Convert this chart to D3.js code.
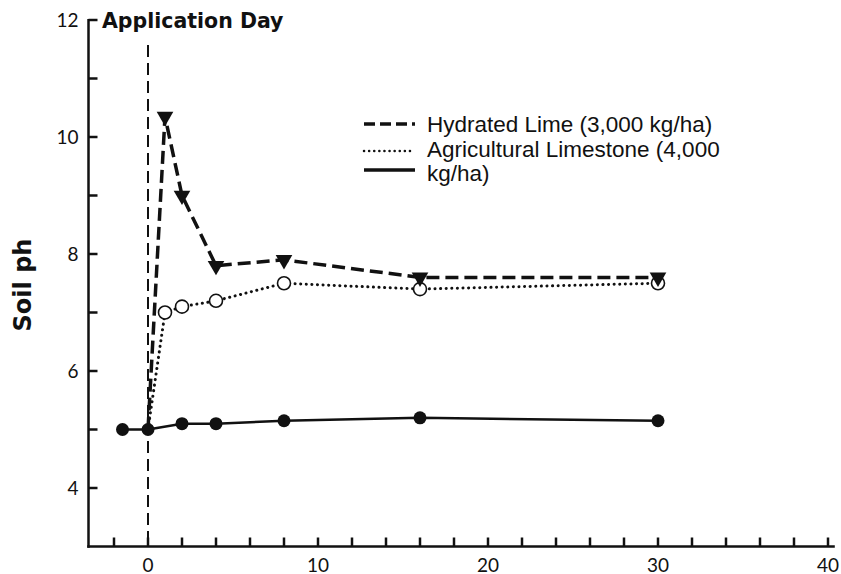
<!DOCTYPE html>
<html>
<head>
<meta charset="utf-8">
<script src="https://cdn.jsdelivr.net/npm/d3@7"></script>
<style>
  body { margin: 0; background: #fff; }
  svg { display: block; }
</style>
</head>
<body>
<div id="chart"></div>
<script>
// days after application and soil pH readings for each treatment
const limeDays = [0, 1, 2, 4, 8, 16, 30];
const limeValues = [5.0, 10.35, 9.0, 7.8, 7.9, 7.6, 7.6];

const limestoneDays = [0, 1, 2, 4, 8, 16, 30];
const limestoneValues = [5.0, 7.0, 7.1, 7.2, 7.5, 7.4, 7.5];

const controlDays = [-1.5, 0, 2, 4, 8, 16, 30];
const controlValues = [5.0, 5.0, 5.1, 5.1, 5.15, 5.2, 5.15];

const xTicks = d3.range(-2, 41, 2);
const xLabels = [0, 10, 20, 30, 40];
const yTicks = d3.range(4, 13, 1);
const yLabels = [4, 6, 8, 10, 12];

const legendLabels = ["Hydrated Lime (3,000 kg/ha)", "Agricultural Limestone (4,000", "kg/ha)"];

const width = 841, height = 574;

const svg = d3.select("#chart")
    .append("svg")
    .attr("width", width)
    .attr("height", height);

const x = d3.scaleLinear().domain([-3.5, 40.4]).range([88.5, 834.8]);
const y = d3.scaleLinear().domain([3, 12]).range([546.5, 20]);

const tickFont = "Lato, 'DejaVu Sans', sans-serif";
const boldFont = "'DejaVu Sans', sans-serif";
const ink = "#111";

// axis frame: left and bottom lines
const axes = svg.append("g")
    .attr("stroke", ink)
    .attr("stroke-width", 2.5);

axes.append("line")
    .attr("x1", x(-3.5)).attr("x2", x(-3.5))
    .attr("y1", y(12) - 1).attr("y2", y(3) + 1.25);
axes.append("line")
    .attr("x1", x(-3.5) - 1.25).attr("x2", x(40.4))
    .attr("y1", y(3)).attr("y2", y(3));

// x ticks point up, every 2 days
axes.selectAll(".xtick")
    .data(xTicks)
    .enter().append("line")
    .attr("class", "xtick")
    .attr("x1", d => x(d)).attr("x2", d => x(d))
    .attr("y1", y(3)).attr("y2", y(3) - 9);

// y ticks point right, every 1 pH unit
axes.selectAll(".ytick")
    .data(yTicks)
    .enter().append("line")
    .attr("class", "ytick")
    .attr("x1", x(-3.5)).attr("x2", x(-3.5) + 9)
    .attr("y1", d => y(d)).attr("y2", d => y(d));

svg.append("g").selectAll("text")
    .data(xLabels)
    .enter().append("text")
    .attr("x", d => x(d))
    .attr("y", y(3) + 25)
    .attr("text-anchor", "middle")
    .style("font-family", tickFont)
    .style("font-size", "19px")
    .style("fill", ink)
    .text(d => d);

svg.append("g").selectAll("text")
    .data(yLabels)
    .enter().append("text")
    .attr("x", x(-3.5) - 10)
    .attr("y", d => y(d))
    .attr("dy", "0.35em")
    .attr("text-anchor", "end")
    .style("font-family", tickFont)
    .style("font-size", "19px")
    .style("fill", ink)
    .text(d => d);

svg.append("text")
    .attr("transform", "translate(31," + 285 + ") rotate(-90)")
    .attr("text-anchor", "middle")
    .style("font-family", boldFont)
    .style("font-size", "24px")
    .style("font-weight", "bold")
    .style("fill", ink)
    .text("Soil ph");

// application day marker
svg.append("line")
    .attr("x1", x(0)).attr("x2", x(0))
    .attr("y1", 45).attr("y2", y(3))
    .attr("stroke", ink)
    .attr("stroke-width", 2)
    .attr("stroke-dasharray", "12,6");

svg.append("text")
    .attr("x", 102)
    .attr("y", 28)
    .style("font-family", boldFont)
    .style("font-size", "20.5px")
    .style("font-weight", "bold")
    .style("fill", ink)
    .text("Application Day");

const line = d3.line().x(d => x(d[0])).y(d => y(d[1]));

const limeData = d3.zip(limeDays, limeValues);
const limestoneData = d3.zip(limestoneDays, limestoneValues);
const controlData = d3.zip(controlDays, controlValues);

svg.append("path")
    .datum(controlData)
    .attr("d", line)
    .attr("fill", "none")
    .attr("stroke", ink)
    .attr("stroke-width", 2.5);

svg.append("path")
    .datum(limestoneData)
    .attr("d", line)
    .attr("fill", "none")
    .attr("stroke", ink)
    .attr("stroke-width", 3)
    .attr("stroke-linecap", "round")
    .attr("stroke-dasharray", "0.1,5.5");

svg.append("path")
    .datum(limeData)
    .attr("d", line)
    .attr("fill", "none")
    .attr("stroke", ink)
    .attr("stroke-width", 3.5)
    .attr("stroke-dasharray", "13,6");

// markers (day 0 of the treated plots sits under the control dot)
svg.append("g").selectAll("circle")
    .data(controlData)
    .enter().append("circle")
    .attr("cx", d => x(d[0]))
    .attr("cy", d => y(d[1]))
    .attr("r", 6.5)
    .attr("fill", ink);

svg.append("g").selectAll("circle")
    .data(limestoneData.filter(d => d[0] > 0))
    .enter().append("circle")
    .attr("cx", d => x(d[0]))
    .attr("cy", d => y(d[1]))
    .attr("r", 6.5)
    .attr("fill", "#fff")
    .attr("stroke", ink)
    .attr("stroke-width", 1.6);

const tri = d3.symbol().type(d3.symbolTriangle).size(120);
svg.append("g").selectAll("path")
    .data(limeData.filter(d => d[0] > 0))
    .enter().append("path")
    .attr("d", tri)
    .attr("transform", d => "translate(" + x(d[0]) + "," + y(d[1]) + ") rotate(180)")
    .attr("fill", ink);

// legend
const legend = svg.append("g");
const legendRows = [
    { label: legendLabels[0], ly: 124, ty: 132, width: 3.5, dash: "11,5", cap: "butt" },
    { label: legendLabels[1], ly: 151, ty: 157, width: 2.5, dash: "0.1,5", cap: "round" },
    { label: legendLabels[2], ly: 170, ty: 181, width: 3.5, dash: null, cap: "butt" }
];

legend.selectAll("line")
    .data(legendRows)
    .enter().append("line")
    .attr("x1", 364).attr("x2", 415)
    .attr("y1", d => d.ly).attr("y2", d => d.ly)
    .attr("stroke", ink)
    .attr("stroke-width", d => d.width)
    .attr("stroke-linecap", d => d.cap)
    .attr("stroke-dasharray", d => d.dash);

legend.selectAll("text")
    .data(legendRows)
    .enter().append("text")
    .attr("x", 427)
    .attr("y", d => d.ty)
    .style("font-family", "'Liberation Sans', Arial, sans-serif")
    .style("font-size", "22.5px")
    .style("fill", ink)
    .text(d => d.label);
</script>
</body>
</html>
